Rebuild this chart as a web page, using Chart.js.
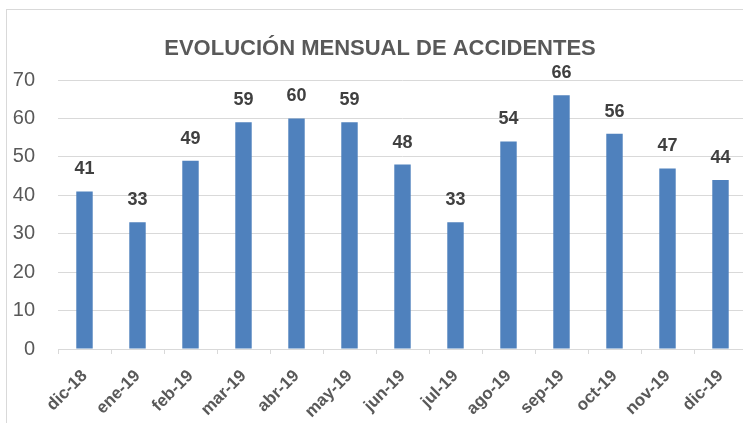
<!DOCTYPE html>
<html>
<head>
<meta charset="utf-8">
<script src="https://cdn.jsdelivr.net/npm/chart.js@4"></script>
<style>
  html, body { margin: 0; padding: 0; background: #fff; overflow: hidden; }
  #marco { position: absolute; left: 6px; top: 9px; width: 800px; height: 500px; border: 1px solid #d9d9d9; }
  #caja { position: absolute; left: 0; top: 0; width: 752px; height: 423px; }
</style>
</head>
<body>
<div id="marco"></div>
<div id="caja"><canvas id="grafica"></canvas></div>
<script>
// ========================== Datos
const meses = ["dic-18", "ene-19", "feb-19", "mar-19", "abr-19", "may-19", "jun-19",
               "jul-19", "ago-19", "sep-19", "oct-19", "nov-19", "dic-19"];
const accidentes = [41, 33, 49, 59, 60, 59, 48, 33, 54, 66, 56, 47, 44];
const ticksY = [0, 10, 20, 30, 40, 50, 60, 70];
const titulo = "EVOLUCIÓN MENSUAL DE ACCIDENTES";

const fuente = "'Liberation Sans', Arial, sans-serif";

// ========================== Titulo dibujado a mano
const pluginTitulo = {
    id: "titulo",
    afterDraw(chart) {
        const c = chart.ctx;
        c.save();
        c.font = "bold 22px " + fuente;
        c.fillStyle = "#595959";
        c.textAlign = "center";
        c.textBaseline = "alphabetic";
        c.fillText(titulo, 380, 55);
        c.restore();
    }
};

// ========================== Etiquetas de valor
const pluginEtiquetas = {
    id: "etiquetas",
    afterDatasetsDraw(chart) {
        const c = chart.ctx;
        const meta = chart.getDatasetMeta(0);
        c.save();
        c.font = "bold 18px " + fuente;
        c.fillStyle = "#404040";
        c.textAlign = "center";
        c.textBaseline = "alphabetic";
        meta.data.forEach(function (bar, i) {
            c.fillText(String(accidentes[i]), bar.x, bar.y - 17);
        });
        c.restore();
    }
};

const ctx = document.getElementById("grafica");
new Chart(ctx, {
    type: "bar",
    data: {
        labels: meses,
        datasets: [{
            data: accidentes,
            backgroundColor: "#4f81bd",
            borderWidth: 0,
            categoryPercentage: 1,
            barPercentage: 0.31
        }]
    },
    options: {
        responsive: true,
        maintainAspectRatio: false,
        animation: false,
        events: [],
        layout: { padding: { left: 0, top: 80, right: 5, bottom: 0 } },
        plugins: {
            legend: { display: false },
            title: { display: false },
            tooltip: { enabled: false }
        },
        scales: {
            x: {
                grid: {
                    offset: true,
                    drawOnChartArea: false,
                    drawTicks: true,
                    tickLength: 5,
                    color: "#d9d9d9"
                },
                border: { display: true, color: "#d9d9d9" },
                ticks: {
                    minRotation: 45,
                    maxRotation: 45,
                    autoSkip: false,
                    padding: 12,
                    color: "#595959",
                    font: { family: fuente, size: 17, weight: "bold" }
                },
                afterFit(scale) { scale.height = 74; }
            },
            y: {
                min: ticksY[0],
                max: ticksY[ticksY.length - 1],
                afterBuildTicks(scale) {
                    scale.ticks = ticksY.map(function (v) { return { value: v }; });
                },
                grid: { color: "#d9d9d9", drawTicks: false },
                border: { display: false },
                ticks: {
                    padding: 23,
                    color: "#595959",
                    font: { family: fuente, size: 20 }
                },
                afterFit(scale) { scale.width = 58; }
            }
        }
    },
    plugins: [pluginTitulo, pluginEtiquetas]
});
</script>
</body>
</html>
